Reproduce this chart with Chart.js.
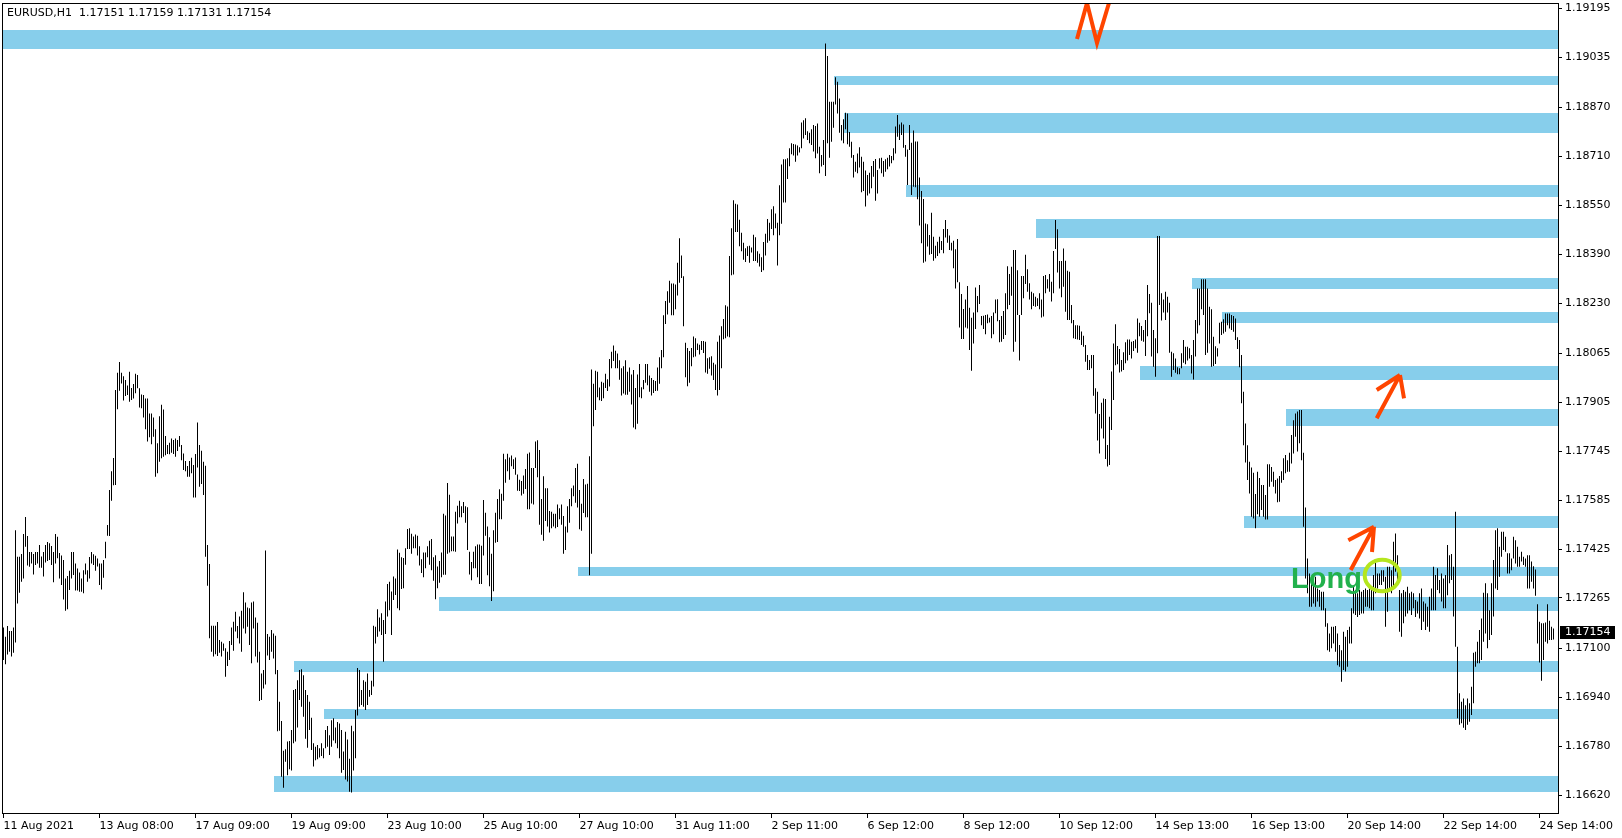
<!DOCTYPE html>
<html>
<head>
<meta charset="utf-8">
<title>EURUSD,H1</title>
<script src="https://cdn.jsdelivr.net/npm/chart.js@4.4.1/dist/chart.umd.min.js"></script>
<style>
  html, body { margin: 0; padding: 0; background: #fff; }
</style>
</head>
<body>
<canvas id="myChart" width="1622" height="838"></canvas>
<script>
// EURUSD H1 bars, 11 Aug 2021 -> 24 Sep 2021
// high / low kept in points above 1.16000 (1 point = 0.00001)
const priceBase = 1.16

const barHigh = [
  1168,1138,1173,1157,1157,1168,1487,1400,1400,1409, 1474,1530,1468,1415,1415,1409,1415,1415,1438,1401,
  1415,1438,1448,1444,1435,1415,1474,1465,1412,1404, 1389,1329,1337,1354,1415,1415,1378,1361,1348,1329,
  1356,1378,1356,1399,1415,1408,1403,1394,1378,1378, 1389,1449,1504,1618,1680,1723,1946,2002,2037,2002,
  1991,1978,1960,2005,1952,1965,1999,1995,1951,1931, 1929,1918,1918,1869,1869,1856,1817,1771,1860,1897,
  1882,1795,1766,1773,1787,1782,1787,1782,1795,1766, 1738,1713,1697,1713,1724,1700,1736,1839,1766,1747,
  1711,1698,1438,1376,1174,1174,1174,1186,1127,1122, 1116,1100,1089,1124,1168,1187,1220,1173,1204,1223,
  1284,1250,1234,1231,1250,1253,1201,1184,1089,1018, 1029,1420,1147,1138,1160,1149,1141,1029,925,862,
  765,770,795,797,833,964,967,996,1029,1032, 1012,964,947,925,873,789,778,784,773,789,
  773,833,846,816,865,871,841,859,854,833, 762,827,802,739,847,829,898,1036,1029,964,
  996,991,1018,964,994,1174,1171,1228,1201,1215, 1193,1253,1311,1318,1286,1335,1329,1424,1413,1398,
  1396,1428,1491,1493,1475,1466,1473,1469,1434,1392, 1414,1414,1434,1452,1458,1398,1405,1368,1386,1414,
  1541,1535,1641,1603,1466,1466,1547,1567,1583,1565, 1579,1565,1562,1416,1383,1416,1434,1440,1440,1436,
  1586,1544,1499,1464,1410,1487,1544,1589,1621,1606, 1737,1719,1737,1725,1731,1719,1725,1669,1652,1648,
  1666,1687,1737,1741,1690,1690,1777,1781,1749,1589, 1663,1624,1624,1550,1547,1541,1541,1571,1559,1571,
  1533,1499,1565,1589,1624,1633,1690,1704,1618,1573, 1654,1636,1639,1729,2013,1966,2009,2005,1954,1973,
  1969,1999,1981,2047,2071,2091,2074,2065,2043,2017, 2023,2043,2005,2019,1996,2011,1952,1996,2031,1955,
  1978,2031,2031,1993,1985,1978,1975,2019,2053,2077, 2190,2237,2269,2303,2294,2294,2291,2362,2442,2386,
  2318,2100,2083,2073,2083,2121,2115,2098,2094,2106, 2106,2104,2050,2053,2056,2035,2029,2104,2124,2154,
  2178,2223,2219,2384,2475,2567,2555,2553,2503,2460, 2428,2410,2416,2418,2412,2454,2446,2400,2392,2380,
  2430,2457,2505,2493,2537,2547,2523,2493,2616,2684, 2701,2701,2704,2737,2753,2751,2749,2746,2740,2821,
  2829,2835,2793,2788,2799,2813,2810,2818,2742,2715, 2764,3080,3039,2889,2889,2889,2969,2955,2900,2813,
  2832,2853,2851,2790,2758,2715,2693,2720,2740,2709, 2693,2664,2649,2657,2679,2695,2702,2666,2704,2706,
  2695,2701,2706,2715,2712,2737,2808,2846,2815,2821, 2815,2748,2733,2813,2755,2795,2759,2759,2641,2597,
  2571,2491,2488,2453,2526,2447,2418,2431,2447,2433, 2473,2502,2473,2451,2428,2434,2406,2440,2298,2260,
  2211,2242,2286,2215,2182,2199,2281,2253,2289,2188, 2189,2191,2193,2182,2188,2199,2242,2243,2175,2188,
  2204,2262,2351,2325,2349,2404,2404,2338,2191,2319, 2319,2388,2341,2295,2267,2262,2251,2246,2262,2242,
  2319,2322,2308,2325,2300,2401,2502,2472,2368,2368, 2409,2369,2336,2333,2224,2175,2158,2158,2156,2137,
  2123,2093,2060,2044,2060,2060,1951,1940,1867,1904, 1918,1916,1766,1858,2006,2098,2161,2090,2080,2044,
  2069,2102,2111,2111,2104,2106,2111,2180,2166,2155, 2142,2175,2289,2260,2231,2142,2115,2450,2450,2262,
  2242,2267,2251,2231,2071,2066,2049,2020,2017,2066, 2109,2087,2087,2082,2060,2109,2175,2278,2278,2308,
  2308,2308,2278,2218,2210,2120,2089,2082,2166,2169, 2177,2196,2196,2196,2191,2188,2180,2118,2109,2060,
  1940,1836,1765,1711,1692,1675,1605,1678,1658,1635, 1635,1602,1703,1703,1694,1678,1651,1656,1664,1680,
  1722,1733,1716,1740,1798,1847,1869,1875,1880,1880, 1740,1561,1394,1345,1329,1318,1334,1296,1291,1285,
  1285,1231,1182,1149,1171,1171,1173,1149,1111,1094, 1154,1138,1160,1171,1231,1302,1291,1280,1291,1285,
  1291,1296,1291,1296,1291,1340,1389,1345,1345,1356, 1356,1334,1367,1367,1356,1449,1476,1405,1291,1280,
  1291,1285,1302,1280,1285,1280,1258,1253,1280,1296, 1253,1247,1236,1269,1296,1367,1340,1362,1324,1345,
  1329,1340,1438,1405,1409,1367,1547,1105,953,925, 936,914,936,920,974,1086,1089,1122,1160,1198,
  1282,1313,1280,1225,1313,1389,1487,1493,1433,1482, 1482,1465,1411,1411,1394,1465,1454,1433,1400,1416,
  1400,1394,1405,1405,1384,1369,1358,1244,1187,1182, 1182,1185,1244,1190,1171,1165
]

const barLow = [
  1062,1048,1080,1089,1073,1086,1119,1247,1282,1318, 1329,1433,1371,1367,1378,1342,1373,1378,1364,1364,
  1335,1381,1386,1389,1373,1316,1378,1395,1329,1307, 1260,1223,1228,1291,1329,1340,1289,1289,1285,1285,
  1280,1342,1318,1329,1378,1373,1354,1368,1307,1293, 1331,1395,1469,1468,1583,1634,1635,1883,1943,1967,
  1911,1926,1929,1907,1913,1918,1935,1951,1888,1886, 1856,1817,1777,1791,1768,1793,1662,1673,1711,1722,
  1727,1732,1736,1735,1740,1736,1727,1746,1760,1716, 1684,1680,1662,1662,1673,1594,1594,1692,1629,1638,
  1602,1400,1305,1133,1089,1073,1081,1075,1086,1073, 1092,1007,1042,1062,1111,1092,1155,1133,1116,1089,
  1165,1149,1171,1111,1051,1165,1073,1054,928,931, 969,982,1077,1062,1089,1067,1015,829,830,680,
  644,729,685,704,700,789,795,841,931,909, 876,804,775,833,767,713,734,737,743,748,
  740,773,778,751,778,798,789,773,740,693, 702,671,664,631,628,700,740,880,909,915,
  909,898,915,942,947,975,1116,1138,1155,1144, 1056,1147,1204,1225,1144,1258,1275,1231,1225,1294,
  1297,1374,1425,1425,1410,1428,1428,1404,1371,1347, 1333,1362,1398,1374,1356,1321,1261,1297,1315,1333,
  1341,1341,1410,1414,1418,1418,1416,1509,1529,1529, 1543,1511,1422,1342,1323,1362,1362,1333,1311,1311,
  1404,1469,1339,1303,1255,1287,1446,1448,1523,1523, 1583,1642,1680,1652,1696,1687,1668,1616,1615,1600,
  1606,1622,1555,1555,1574,1571,1690,1660,1505,1472, 1452,1517,1499,1479,1493,1499,1493,1497,1523,1505,
  1410,1422,1479,1511,1565,1598,1577,1561,1490,1485, 1543,1529,1529,1339,1410,1827,1880,1922,1912,1910,
  1919,1952,1942,1957,2017,2041,2017,2017,1979,1928, 1934,1930,1930,1940,1898,1823,1817,1835,1922,1919,
  1948,1969,1961,1940,1928,1936,1942,1943,1966,2017, 2053,2162,2193,2231,2190,2190,2210,2255,2297,2312,
  2154,1987,1958,1969,2023,2053,2055,2077,2062,2077, 2067,2003,1999,2015,1993,1978,1946,1928,1946,2017,
  2112,2115,2121,2118,2321,2324,2463,2463,2416,2400, 2372,2365,2384,2362,2396,2368,2368,2362,2350,2332,
  2338,2386,2428,2434,2473,2452,2475,2353,2452,2490, 2559,2559,2636,2678,2717,2713,2693,2713,2723,2737,
  2769,2780,2764,2753,2748,2726,2704,2720,2655,2677, 2682,2646,2753,2706,2758,2804,2880,2851,2788,2762,
  2753,2799,2750,2742,2706,2641,2660,2655,2674,2593, 2597,2546,2582,2589,2606,2644,2565,2589,2671,2655,
  2644,2660,2668,2677,2688,2698,2720,2775,2764,2780, 2739,2709,2617,2731,2584,2611,2609,2570,2484,2426,
  2362,2366,2415,2388,2391,2369,2377,2384,2393,2404, 2393,2445,2428,2404,2402,2344,2278,2298,2150,2113,
  2113,2150,2147,2077,2009,2098,2145,2200,2227,2158, 2145,2128,2164,2167,2115,2128,2197,2171,2102,2104,
  2113,2126,2210,2224,2254,2071,2104,2191,2042,2191, 2246,2293,2267,2242,2210,2221,2218,2221,2210,2183,
  2186,2262,2278,2267,2235,2262,2407,2330,2278,2249, 2284,2202,2175,2175,2164,2115,2113,2111,2109,2093,
  2087,2038,2011,2011,2017,1927,1869,1780,1738,1820, 1787,1720,1695,1700,1815,1913,2027,2030,2003,2006,
  2011,2033,2042,2060,2049,2073,2082,2068,2122,2107, 2104,2057,2122,2197,2055,2022,1989,2066,2224,2173,
  2199,2175,2199,2068,1989,2011,2002,1997,1997,2017, 2035,2030,2042,2049,2000,1980,2055,2131,2158,2210,
  2191,2060,2068,2098,2022,2024,2031,2055,2098,2126, 2131,2136,2158,2147,2142,2136,2109,2080,2020,1902,
  1765,1708,1651,1607,1531,1525,1493,1539,1531,1553, 1531,1522,1522,1629,1645,1629,1607,1578,1580,1642,
  1651,1673,1678,1678,1705,1738,1793,1744,1771,1716, 1498,1329,1280,1236,1236,1247,1236,1253,1236,1225,
  1225,1171,1094,1089,1100,1116,1089,1045,1040,991, 1029,1024,1040,1116,1116,1214,1209,1203,1209,1214,
  1214,1236,1236,1231,1225,1225,1280,1296,1307,1307, 1318,1171,1220,1296,1280,1296,1351,1307,1154,1138,
  1182,1204,1214,1225,1209,1231,1203,1214,1198,1160, 1187,1160,1171,1154,1225,1225,1225,1291,1280,1253,
  1231,1231,1274,1313,1324,1204,1105,871,850,855, 840,833,850,860,882,920,1040,1051,1051,1062,
  1122,1149,1100,1127,1144,1204,1296,1291,1334,1400, 1422,1416,1345,1345,1356,1394,1378,1367,1367,1384,
  1373,1367,1296,1296,1318,1296,1272,1116,1054,994, 1062,1122,1116,1127,1127,1129
]

const lastQuote = [1.17151, 1.17159, 1.17131, 1.17154] // open high low close of the last bar

const yTicks = [1.19195, 1.19035, 1.18870, 1.18710, 1.18550, 1.18390, 1.18230, 1.18065, 1.17905,
  1.17745, 1.17585, 1.17425, 1.17265, 1.17100, 1.16940, 1.16780, 1.16620]

const xTickBars = [0, 48, 96, 144, 192, 240, 288, 336, 384, 432, 480, 528, 576, 624, 672, 720, 768]
const xTickLabels = ['11 Aug 2021', '13 Aug 08:00', '17 Aug 09:00', '19 Aug 09:00', '23 Aug 10:00',
  '25 Aug 10:00', '27 Aug 10:00', '31 Aug 11:00', '2 Sep 11:00', '6 Sep 12:00', '8 Sep 12:00',
  '10 Sep 12:00', '14 Sep 13:00', '16 Sep 13:00', '20 Sep 14:00', '22 Sep 14:00', '24 Sep 14:00']

// blue supply / demand zones: bar where it starts, top price, bottom price (run to the right edge)
const zoneStart = [-1, 415, 420, 451, 516, 594, 609, 568, 641, 620, 287, 217.5, 145, 160, 135]
const zoneTop = [1.19124, 1.18973, 1.18851, 1.18616, 1.18505, 1.18312, 1.18201, 1.18024, 1.17882,
  1.17533, 1.17366, 1.17268, 1.17059, 1.16902, 1.16683]
const zoneBottom = [1.19063, 1.18945, 1.18788, 1.18578, 1.18444, 1.18277, 1.18166, 1.17978, 1.17829,
  1.17495, 1.17338, 1.17223, 1.17024, 1.16870, 1.16631]

// hand drawn marks, in [bar, price]
const zigzag = [[536.75, 1.190946], [541.75, 1.192124], [546.75, 1.190815], [552.75, 1.192124]]
const arrows = [
  { tail: [686.6, 1.178530], tip: [698.25, 1.179948], wings: [[686.6, 1.179457], [700.25, 1.179185]] },
  { tail: [673.6, 1.173565], tip: [685.25, 1.174982], wings: [[672.4, 1.174537], [684.25, 1.174154]] }
]
const longText = { at: [643.75, 1.172976], text: 'Long' }
const ring = { at: [689.35, 1.173385], halfBars: 8.75, halfPrice: 0.000517 }

const bars = barHigh.map((h, i) => ({ x: i, y: [priceBase + barLow[i] / 1e5, priceBase + h / 1e5] }))

const toPx = (chart, p) => [chart.scales.x.getPixelForValue(p[0]), chart.scales.y.getPixelForValue(p[1])]

const drawings = {
  id: 'drawings',
  beforeDatasetsDraw(chart) {
    const { ctx, chartArea: a, scales: { x, y } } = chart
    ctx.save()
    ctx.beginPath()
    ctx.rect(a.left, a.top, a.right - a.left, a.bottom - a.top)
    ctx.clip()
    ctx.fillStyle = '#87ceeb'
    zoneStart.forEach((s, k) => {
      const x0 = Math.round(Math.max(x.getPixelForValue(s), a.left))
      const y0 = Math.round(y.getPixelForValue(zoneTop[k]))
      const y1 = Math.round(y.getPixelForValue(zoneBottom[k]))
      ctx.fillRect(x0, y0, a.right - x0, y1 - y0)
    })
    ctx.restore()
  },
  afterDatasetsDraw(chart) {
    const { ctx, chartArea: a } = chart
    ctx.save()
    ctx.beginPath()
    ctx.rect(a.left, a.top, a.right - a.left, a.bottom - a.top)
    ctx.clip()

    ctx.strokeStyle = '#ff4500'
    ctx.lineWidth = 4
    ctx.lineJoin = 'miter'
    ctx.beginPath()
    zigzag.forEach((p, k) => {
      const [px, py] = toPx(chart, p)
      if (k === 0) ctx.moveTo(px, py)
      else ctx.lineTo(px, py)
    })
    ctx.stroke()

    arrows.forEach(ar => {
      const tip = toPx(chart, ar.tip)
      const tail = toPx(chart, ar.tail)
      ctx.beginPath()
      ctx.moveTo(tail[0], tail[1])
      ctx.lineTo(tip[0], tip[1])
      ar.wings.forEach(w => {
        const wp = toPx(chart, w)
        ctx.moveTo(tip[0], tip[1])
        ctx.lineTo(wp[0], wp[1])
      })
      ctx.stroke()
    })

    const [tx, ty] = toPx(chart, longText.at)
    ctx.fillStyle = '#22b14c'
    ctx.font = 'bold 29px "Liberation Sans", sans-serif'
    ctx.textAlign = 'left'
    ctx.textBaseline = 'alphabetic'
    ctx.fillText(longText.text, tx, ty)

    const [cx, cy] = toPx(chart, ring.at)
    const rx = chart.scales.x.getPixelForValue(ring.at[0] + ring.halfBars) - cx
    const ry = cy - chart.scales.y.getPixelForValue(ring.at[1] + ring.halfPrice)
    ctx.strokeStyle = '#b5e61d'
    ctx.lineWidth = 4
    ctx.beginPath()
    ctx.ellipse(cx, cy, rx, ry, 0, 0, Math.PI * 2)
    ctx.stroke()
    ctx.restore()
  },
  afterDraw(chart) {
    const { ctx, chartArea: a, scales: { y } } = chart
    ctx.save()
    // frame
    ctx.strokeStyle = '#000'
    ctx.lineWidth = 1
    ctx.strokeRect(a.left + 0.5, a.top + 0.5, a.right - a.left, a.bottom - a.top)

    // symbol + last bar ohlc
    ctx.fillStyle = '#000'
    ctx.font = '11px "DejaVu Sans", sans-serif'
    ctx.textAlign = 'left'
    ctx.textBaseline = 'alphabetic'
    ctx.fillText('EURUSD,H1  ' + lastQuote.map(v => v.toFixed(5)).join(' '), 7, 15.5)

    // current price tag on the axis
    const py = Math.round(y.getPixelForValue(lastQuote[3]))
    ctx.fillRect(a.right + 2, py - 6, 55, 13)
    ctx.fillStyle = '#fff'
    ctx.textBaseline = 'middle'
    ctx.fillText(lastQuote[3].toFixed(5), a.right + 7, py + 0.5)
    ctx.restore()
  }
}

Chart.defaults.font.family = '"DejaVu Sans", sans-serif'
Chart.defaults.font.size = 11
Chart.defaults.color = '#000'

const ctx = document.getElementById('myChart')
const myChart = new Chart(ctx, {
  type: 'bar',
  data: {
    datasets: [{
      data: bars,
      backgroundColor: '#000',
      borderWidth: 0,
      barThickness: 1,
      inflateAmount: 0
    }]
  },
  options: {
    responsive: false,
    animation: false,
    events: [],
    layout: { padding: { left: 2, top: 3, right: 0, bottom: 0 } },
    plugins: { legend: { display: false }, tooltip: { enabled: false } },
    scales: {
      x: {
        type: 'linear',
        min: -0.75,
        max: 777.25,
        offset: false,
        grid: { offset: false, drawOnChartArea: false, drawTicks: true, tickLength: 5, color: '#000' },
        border: { display: false },
        ticks: {
          align: 'start', autoSkip: false, maxRotation: 0, minRotation: 0, padding: 2,
          callback: (v, i) => xTickLabels[i]
        },
        afterBuildTicks: s => { s.ticks = xTickBars.map(v => ({ value: v })) },
        afterFit: s => { s.height = 25; s.paddingLeft = 0; s.paddingRight = 0 }
      },
      y: {
        type: 'linear',
        position: 'right',
        min: 1.165611,
        max: 1.192124,
        beginAtZero: false,
        grid: { drawOnChartArea: false, drawTicks: true, tickLength: 4, color: '#000' },
        border: { display: false },
        ticks: { padding: 3, callback: v => v.toFixed(5) },
        afterBuildTicks: s => { s.ticks = yTicks.map(v => ({ value: v })) },
        afterFit: s => { s.width = 64; s.paddingTop = 0; s.paddingBottom = 0 }
      }
    }
  },
  plugins: [drawings]
})
</script>
</body>
</html>
